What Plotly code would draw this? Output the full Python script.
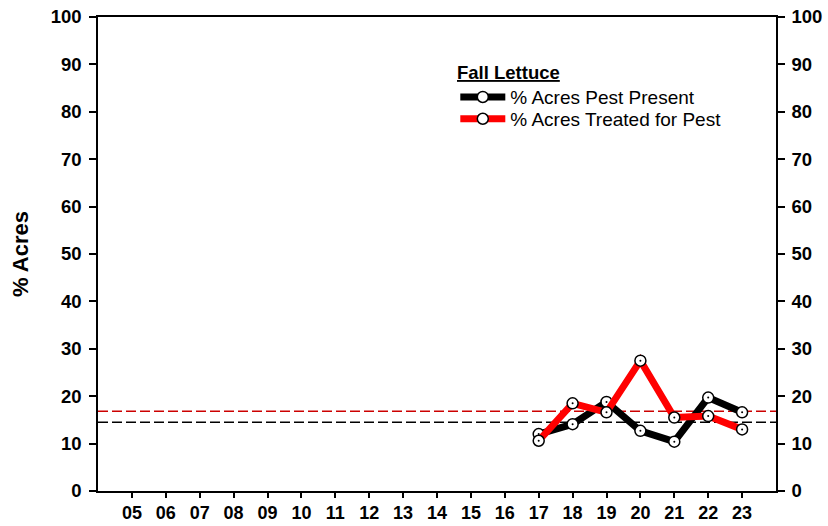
import plotly.graph_objects as go

years = [17, 18, 19, 20, 21, 22, 23]
tick_years = list(range(5, 24))
tick_labels = ["%02d" % y for y in tick_years]

pest_present = [12.0, 14.1, 18.8, 12.7, 10.4, 19.7, 16.6]
treated = [10.6, 18.5, 16.6, 27.5, 15.5, 15.8, 13.0]

avg_present = 14.5
avg_treated = 16.8

FONT = "Liberation Sans, Arial, sans-serif"

fig = go.Figure()

# long-term averages (dashed)
fig.add_hline(y=avg_present, line=dict(color="black", width=1.5, dash="10px,4px"), layer="below")
fig.add_hline(y=avg_treated, line=dict(color="#cc0000", width=1.5, dash="10px,4px"), layer="below")

marker = dict(symbol="circle", size=11, color="white", line=dict(color="black", width=1.5))

fig.add_trace(go.Scatter(x=years, y=pest_present, mode="lines+markers", name="% Acres Pest Present",
                         line=dict(color="black", width=7), marker=marker, legend="legend"))
fig.add_trace(go.Scatter(x=years, y=treated, mode="lines+markers", name="% Acres Treated for Pest",
                         line=dict(color="#ff0000", width=7), marker=marker, legend="legend2"))

# centre dots on the markers
for vals in (pest_present, treated):
    fig.add_trace(go.Scatter(x=years, y=vals, mode="markers", showlegend=False, hoverinfo="skip",
                             marker=dict(size=2, color="black")))

# right axis copy
fig.add_trace(go.Scatter(x=[years[0]], y=[pest_present[0]], yaxis="y2", mode="markers",
                         marker=dict(opacity=0), showlegend=False, hoverinfo="skip"))

fig.add_annotation(text="<b><u>Fall Lettuce</u></b>", xref="paper", yref="paper",
                   x=0.527, y=0.882, xanchor="left", yanchor="middle", showarrow=False,
                   font=dict(size=18.5, family=FONT))

axis_common = dict(
    showgrid=False, zeroline=False, showline=True, linecolor="black", linewidth=1.5,
    ticks="outside", ticklen=7, tickwidth=1.5, tickcolor="black",
    tickfont=dict(size=18.5, family=FONT, weight="bold"),
)

legend_common = dict(
    x=0.527, xanchor="left", yanchor="middle",
    font=dict(size=19), bgcolor="rgba(0,0,0,0)", itemwidth=45,
)

fig.update_layout(
    width=828, height=526,
    margin=dict(l=98, r=52, t=17, b=35, autoexpand=False),
    paper_bgcolor="white", plot_bgcolor="white",
    font=dict(family=FONT, color="black"),
    showlegend=True,
    legend=dict(y=0.831, **legend_common),
    legend2=dict(y=0.785, **legend_common),
    xaxis=dict(range=[4, 24], tickvals=tick_years, ticktext=tick_labels, mirror=True, **axis_common),
    yaxis=dict(range=[0, 100], dtick=10, ticklabelstandoff=4,
               title=dict(text="<b>% Acres</b>", font=dict(size=22), standoff=16), **axis_common),
    yaxis2=dict(range=[0, 100], dtick=10, overlaying="y", side="right", ticklabelstandoff=3,
                **axis_common),
)
fig.update_xaxes(ticklen=5, tickfont_size=18)

fig.write_html("out.html", config={"displayModeBar": False},
               post_script="document.body.style.margin='0px';")
